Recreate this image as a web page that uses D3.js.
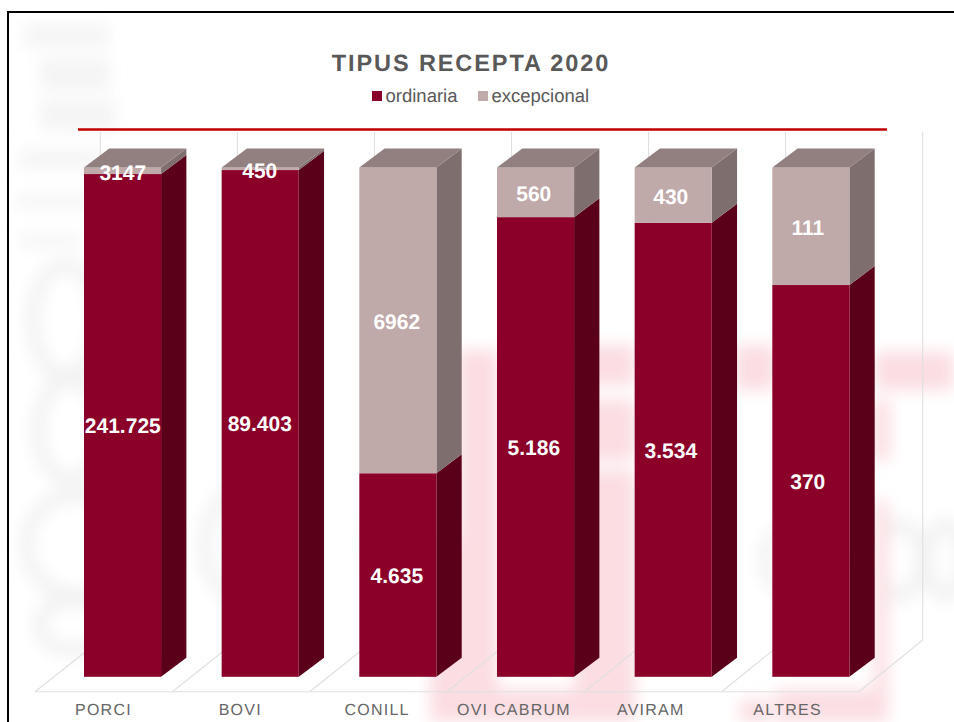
<!DOCTYPE html>
<html>
<head>
<meta charset="utf-8">
<script src="https://cdn.jsdelivr.net/npm/d3@7"></script>
<style>
html,body{margin:0;padding:0;background:#fff;overflow:hidden}
text{font-family:"Liberation Sans",Arial,sans-serif;text-rendering:geometricPrecision}
</style>
</head>
<body>
<svg id="c" width="954" height="722"></svg>
<script>
const categories = ["PORCI","BOVI","CONILL","OVI CABRUM","AVIRAM","ALTRES"];
const ordinaria = [241725,89403,4635,5186,3534,370];
const excepcional = [3147,450,6962,560,430,111];
const ordinariaLabels = ["241.725","89.403","4.635","5.186","3.534","370"];
const excepcionalLabels = ["3147","450","6962","560","430","111"];
const seriesNames = ["ordinaria","excepcional"];
const chartTitle = "TIPUS RECEPTA 2020";

const frontColor = {ordinaria:"#8a0029",excepcional:"#bfa9a9"};
const sideColor  = {ordinaria:"#5a0018",excepcional:"#7f6e6e"};
const topColor   = "#927f7f";
const dx = 25.3, dy = 19;

const svg = d3.select("#c");
const defs = svg.append("defs");
defs.append("filter").attr("id","b").attr("x","-30%").attr("y","-30%").attr("width","160%").attr("height","160%")
  .append("feGaussianBlur").attr("stdDeviation",8);

// faint blurred watermark behind the chart
const wm = svg.append("g").attr("filter","url(#b)");
const grayBlocks = [[24,24,85,22],[40,58,70,32],[40,100,75,30],[20,150,85,18],[15,195,85,12],[20,235,60,12]];
wm.selectAll("rect.g").data(grayBlocks).join("rect").attr("class","g")
  .attr("x",d=>d[0]).attr("y",d=>d[1]).attr("width",d=>d[2]).attr("height",d=>d[3]).attr("fill","#f4f4f4");
const grayRings = [[65,320,32,55],[70,430,32,50],[75,545,48,50],[72,625,32,25],[235,545,30,50],[390,545,20,50],[800,560,35,35],[900,560,22,35],[945,560,18,35]];
wm.selectAll("ellipse").data(grayRings).join("ellipse")
  .attr("cx",d=>d[0]).attr("cy",d=>d[1]).attr("rx",d=>d[2]).attr("ry",d=>d[3])
  .attr("fill","none").attr("stroke","#f1f1f1").attr("stroke-width",13);
const pinkBlocks = [[458,350,40,372],[575,345,60,40],[440,690,140,32],[575,400,60,60],[575,470,60,252],[735,345,40,45],[740,700,30,22],[775,690,112,32],[874,500,14,222],[875,352,79,38],[872,400,18,60],[430,540,30,182]];
wm.selectAll("rect.p").data(pinkBlocks).join("rect").attr("class","p")
  .attr("x",d=>d[0]).attr("y",d=>d[1]).attr("width",d=>d[2]).attr("height",d=>d[3]).attr("fill","#fbdde2");

// frame
svg.append("path").attr("d","M8,722V12H954").attr("fill","none").attr("stroke","#000").attr("stroke-width",2);

// scales
const x = d3.scaleBand().domain(categories).range([53.7,879.7]).paddingInner(.44).paddingOuter(.22);
const y = d3.scaleLinear().domain([0,1]).range([676.8,167.5]);
const xLabel = d3.scalePoint().domain(categories).range([122.8,807.8]);
const xTick = d3.scaleBand().domain(categories).range([35,856]);
const line = d3.line();

// floor and walls
const wallStep = d3.scaleLinear().domain([0,categories.length]);
const floorFront = wallStep.copy().range([35,859]);
const wallBack = wallStep.copy().range([100.3,922.7]);
const grid = svg.append("g").attr("fill","none").attr("stroke","#e0e0e0").attr("stroke-width",1.1);
d3.range(categories.length+1).forEach(i=>{
  grid.append("path").attr("d",line([[floorFront(i),691.7],[wallBack(i),640]]));
  grid.append("path").attr("d",line([[wallBack(i),132],[wallBack(i),640]]));
});
grid.append("path").attr("d",line([[floorFront(0),691.7],[floorFront(categories.length),691.7]]));

// stacked 100% bars
const rows = categories.map((c,i)=>({cat:c,ordinaria:ordinaria[i],excepcional:excepcional[i]}));
const stacked = d3.stack().keys(seriesNames).offset(d3.stackOffsetExpand)(rows);
const bars = svg.append("g");
stacked.forEach(s=>{
  const g = bars.append("g");
  g.selectAll("path.side").data(s).join("path").attr("class","side")
    .attr("d",d=>{const r=x(d.data.cat)+x.bandwidth();return line([[r,y(d[0])],[r+dx,y(d[0])-dy],[r+dx,y(d[1])-dy],[r,y(d[1])]])+"Z";})
    .attr("fill",sideColor[s.key]);
  g.selectAll("rect").data(s).join("rect")
    .attr("x",d=>x(d.data.cat)).attr("width",x.bandwidth())
    .attr("y",d=>y(d[1])).attr("height",d=>y(d[0])-y(d[1]))
    .attr("fill",frontColor[s.key]);
});
bars.append("g").selectAll("path").data(categories).join("path")
  .attr("d",c=>{const l=x(c),r=l+x.bandwidth(),t=y(1);return line([[l,t],[l+dx,t-dy],[r+dx,t-dy],[r,t]])+"Z";})
  .attr("fill",topColor);

// data labels
const labels = svg.append("g").attr("fill","#fff").attr("font-weight","bold").attr("font-size",21).attr("text-anchor","middle");
stacked.forEach((s,si)=>{
  const txt = si===0?ordinariaLabels:excepcionalLabels;
  labels.selectAll("text.s"+si).data(s).join("text").attr("class","s"+si)
    .attr("x",d=>xLabel(d.data.cat))
    .attr("y",d=>(y(d[0])+y(d[1]))/2+(si===1?1:0)+7.8)
    .text((d,i)=>txt[i]);
});

// category axis
const axis = svg.append("g").attr("transform","translate(0,701)")
  .call(d3.axisBottom(xTick).tickSize(0).tickPadding(3));
axis.select(".domain").remove();
axis.selectAll("text").attr("font-size",16).attr("fill","#666").attr("letter-spacing",1.25)
  .style("font-family",'"Liberation Sans",Arial,sans-serif');

// red rule
svg.append("path").attr("d",line([[78,129.5],[887,129.5]])).attr("stroke","#c00000").attr("stroke-width",2.5);

// title and legend
svg.append("text").attr("x",471).attr("y",71).attr("text-anchor","middle").attr("font-size",23.5)
  .attr("font-weight","bold").attr("fill","#595959").attr("letter-spacing",1.9).text(chartTitle);
const legendX = d3.scaleOrdinal().domain(seriesNames).range([372,478]);
const lg = svg.append("g").selectAll("g").data(seriesNames).join("g");
lg.append("rect").attr("x",d=>legendX(d)).attr("y",91).attr("width",10).attr("height",10).attr("fill",d=>frontColor[d]);
lg.append("text").attr("x",d=>legendX(d)+13.5).attr("y",102).attr("font-size",18.5).attr("fill","#595959").text(d=>d);
</script>
</body>
</html>
